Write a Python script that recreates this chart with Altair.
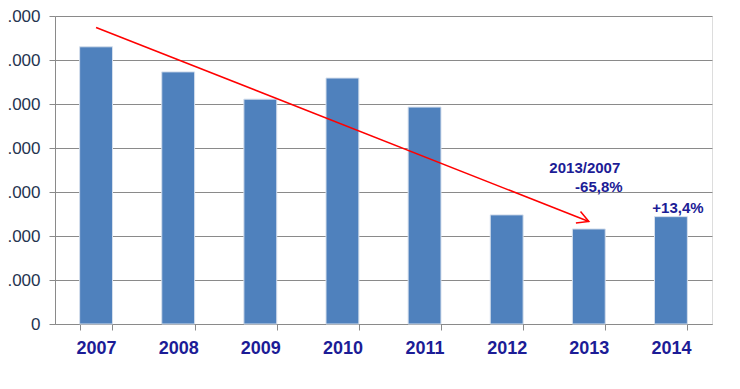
import altair as alt
import pandas as pd

years = ["2007", "2008", "2009", "2010", "2011", "2012", "2013", "2014"]
values = [6300, 5730, 5110, 5590, 4930, 2480, 2160, 2440]

arrow_years = ["2007", "2013"]
arrow_values = [6740, 2330]

ann_texts = ["2013/2007", "-65,8%", "+13,4%"]
ann_years = ["2013", "2013", "2014"]

y_ticks = [0, 1000, 2000, 3000, 4000, 5000, 6000, 7000]

bars_df = pd.DataFrame({"year": years, "value": values})
arrow_df = pd.DataFrame({"year": arrow_years, "value": arrow_values})
val_of = dict(zip(years, values))

xscale = alt.Scale(domain=years, paddingInner=0.6, paddingOuter=0.3)
yscale = alt.Scale(domain=[0, 7000], nice=False)

x_enc = alt.X("year:N", scale=xscale, sort=years, title=None,
              axis=alt.Axis(labelAngle=0, labelFont="Liberation Sans", labelFontSize=18,
                            labelFontWeight="bold", labelColor="#1C1C96",
                            tickBand="extent", tickSize=6, tickColor="#8A8A8A",
                            domainColor="#8A8A8A", labelPadding=9, grid=False))
y_enc = alt.Y("value:Q", scale=yscale, title=None,
              axis=alt.Axis(values=y_ticks, labelFont="Liberation Sans", labelFontSize=17,
                            labelColor="#25334F", tickSize=6, tickColor="#8A8A8A",
                            domainColor="#8A8A8A", gridColor="#8A8A8A", gridWidth=1,
                            labelPadding=9,
                            labelExpr="replace(format(datum.value, ','), ',', '.')"))

bars = alt.Chart(bars_df).mark_bar(color="#4F81BD", stroke="#D4DEEC", strokeWidth=1).encode(
    x=x_enc, y=y_enc)

arrow_line = alt.Chart(arrow_df).mark_line(color="#FF0000", strokeWidth=1.5).encode(
    x=alt.X("year:N", scale=xscale, sort=years),
    y=alt.Y("value:Q", scale=yscale))

arrow_head = alt.Chart(arrow_df.iloc[[1]]).mark_point(
    shape="M-1,-0.55L0,0L-1,0.55", filled=False, stroke="#FF0000", strokeWidth=1.5,
    size=520, angle=21.6, opacity=1).encode(
    x=alt.X("year:N", scale=xscale, sort=years),
    y=alt.Y("value:Q", scale=yscale))

offsets = [(-4, -61), (10, -42), (7, -9)]
texts = []
for t, yr, (dx, dy) in zip(ann_texts, ann_years, offsets):
    df = pd.DataFrame({"year": [yr], "value": [val_of[yr]], "label": [t]})
    texts.append(alt.Chart(df).mark_text(font="Liberation Sans", fontSize=15, fontWeight="bold",
                                         color="#1C1C96", dx=dx, dy=dy, baseline="middle",
                                         align="center").encode(
        x=alt.X("year:N", scale=xscale, sort=years),
        y=alt.Y("value:Q", scale=yscale),
        text="label:N"))

chart = alt.layer(bars, arrow_line, arrow_head, *texts).properties(
    width=657, height=308,
    autosize=alt.AutoSizeParams(type="none"),
    padding={"left": 47, "top": 8, "right": 20, "bottom": 57},
).configure_view(stroke=None).configure(background="white")

chart.save("out.html", embed_options={"renderer": "svg", "actions": False})
